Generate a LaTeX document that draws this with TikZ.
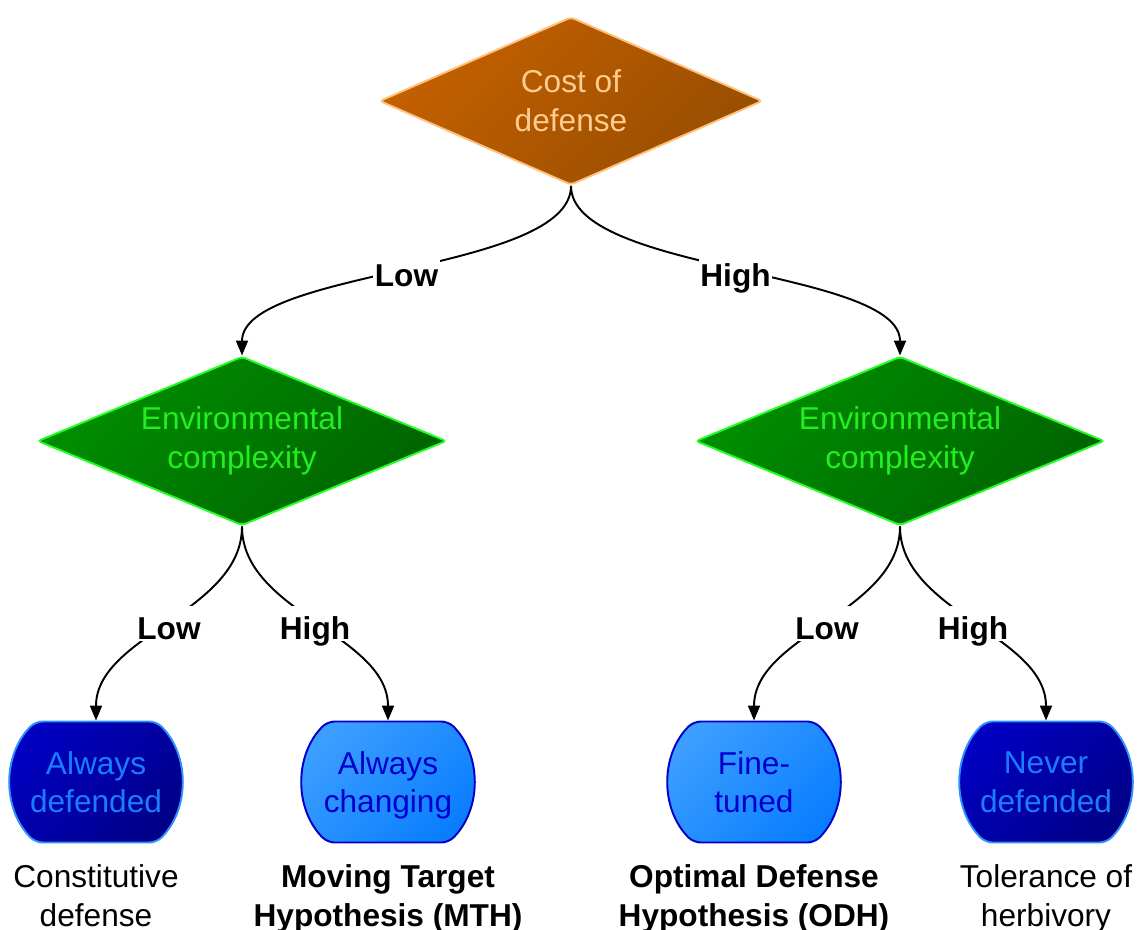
\documentclass[tikz,border=0pt]{standalone}
\usepackage{fontspec}
\setmainfont{Liberation Sans}
\usepackage{tikz}
\usetikzlibrary{arrows.meta,positioning,shapes.geometric,shapes.misc}
\usepackage{xcolor}
\definecolor{costtop}{HTML}{C46000}
\definecolor{costbot}{HTML}{984E00}
\definecolor{costline}{HTML}{FFC07C}
\definecolor{costtext}{HTML}{FFCB8E}
\definecolor{envtop}{HTML}{008E00}
\definecolor{envbot}{HTML}{006400}
\definecolor{envline}{HTML}{22FF22}
\definecolor{envtext}{HTML}{22EE22}
\definecolor{darktop}{HTML}{0000C2}
\definecolor{darkbot}{HTML}{000088}
\definecolor{darkline}{HTML}{2E90FF}
\definecolor{darktext}{HTML}{1A7CFF}
\definecolor{lighttop}{HTML}{3C9EFF}
\definecolor{lightbot}{HTML}{0A7EFF}
\definecolor{lightline}{HTML}{0000C8}
\definecolor{lighttext}{HTML}{0000CC}

\begin{document}
\begin{tikzpicture}[
  x=0.02cm, y=-0.02cm,
  font=\fontsize{18}{22}\selectfont,
  decision/.style={diamond, rounded corners=2pt, line width=1.1pt, inner sep=0pt, align=center},
  costbox/.style={decision, aspect=2.28, draw=costline, top color=costtop, bottom color=costbot, shading angle=45, text=costtext, minimum width=7.66cm, minimum height=3.36cm},
  envbox/.style={decision, aspect=2.42, draw=envline, top color=envtop, bottom color=envbot, shading angle=45, text=envtext, minimum width=8.18cm, minimum height=3.38cm},
  outcome/.style={rounded rectangle, rounded rectangle arc length=90, rounded corners=4pt, line width=1.1pt, align=center, inner sep=0pt, text depth=0pt, minimum width=3.42cm, minimum height=2.42cm},
  darkbox/.style={outcome, draw=darkline, top color=darktop, bottom color=darkbot, shading angle=45, text=darktext},
  lightbox/.style={outcome, draw=lightline, top color=lighttop, bottom color=lightbot, shading angle=45, text=lighttext},
  note/.style={align=center, inner sep=0pt},
  lbl/.style={fill=white, inner sep=1pt, text height=18pt, text depth=0pt, font=\fontsize{18}{22}\selectfont\bfseries},
  arr/.style={-{Triangle[length=8.5pt, width=6.8pt]}, line width=1.1pt}
]
\useasboundingbox (0,0) rectangle (1141,929);

\node[costbox] (cost) at (571,101) {Cost of\\defense};
\node[envbox] (envL) at (242,441) {Environmental\\complexity};
\node[envbox] (envR) at (900,441) {Environmental\\complexity};

\node[darkbox] (adef) at (96,782) {Always\\defended};
\node[lightbox] (achg) at (388,782) {Always\\changing};
\node[lightbox] (fine) at (754,782) {Fine-\\tuned};
\node[darkbox] (ndef) at (1046,782) {Never\\defended};

\node[note, below=12pt of adef] (constdef) {Constitutive\\defense};
\node[note, below=12pt of achg, font=\fontsize{18}{22}\selectfont\bfseries] (mth) {Moving Target\\Hypothesis (MTH)};
\node[note, below=12pt of fine, font=\fontsize{18}{22}\selectfont\bfseries] (odh) {Optimal Defense\\Hypothesis (ODH)};
\node[note, below=12pt of ndef] (toler) {Tolerance of\\herbivory};

\draw[arr] (cost.south) to[out=-90, in=90, looseness=0.6] node[lbl] {Low} (envL.north);
\draw[arr] (cost.south) to[out=-90, in=90, looseness=0.6] node[lbl] {High} (envR.north);
\draw[arr] (envL.south) to[out=-90, in=90, looseness=0.9] node[lbl] {Low} (adef.north);
\draw[arr] (envL.south) to[out=-90, in=90, looseness=0.9] node[lbl] {High} (achg.north);
\draw[arr] (envR.south) to[out=-90, in=90, looseness=0.9] node[lbl] {Low} (fine.north);
\draw[arr] (envR.south) to[out=-90, in=90, looseness=0.9] node[lbl] {High} (ndef.north);
\end{tikzpicture}
\end{document}
